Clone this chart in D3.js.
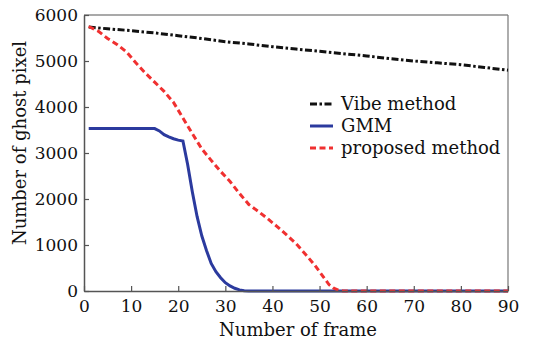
<!DOCTYPE html>
<html><head><meta charset="utf-8">
<script src="https://cdn.jsdelivr.net/npm/d3@7"></script>
<style>body{margin:0;background:#fff}svg{display:block}text{font-family:"DejaVu Serif",serif;fill:#111}</style>
</head><body><svg id="c" width="535" height="346"></svg>
<script>
const xTicks=[0,10,20,30,40,50,60,70,80,90];
const yTicks=[0,1000,2000,3000,4000,5000,6000];
const vibeFrames=[1,5,10,15,20,25,30,35,40,45,50,55,60,65,70,75,80,85,90];
const vibeValues=[5740,5700,5660,5610,5550,5490,5420,5370,5310,5260,5210,5160,5110,5050,5000,4960,4920,4860,4800];
const gmmFrames=[1,5,10,15,16,17,18,19,20,21,22,23,24,25,26,27,28,29,30,31,32,33,34,35,40,50,60,70,80,90];
const gmmValues=[3530,3530,3530,3530,3480,3400,3350,3310,3280,3260,2750,2150,1620,1200,880,600,420,290,180,110,60,25,5,0,0,0,0,0,0,0];
const propFrames=[1,3,5,7,9,11,13,15,17,19,21,23,25,27,29,31,33,35,37,39,41,43,45,47,49,51,52,53,54,55,60,70,80,90];
const propValues=[5750,5650,5490,5360,5200,4960,4740,4540,4340,4100,3760,3420,3090,2840,2600,2380,2120,1880,1730,1570,1400,1220,1030,800,560,280,140,60,20,0,0,0,0,0];
const seriesNames=["Vibe method","GMM","proposed method"];

const svg=d3.select("#c");
const x=d3.scaleLinear().domain([0,90]).range([84,508]);
const y=d3.scaleLinear().domain([0,6000]).range([291,15]);
const axisColor="#555";

svg.append("line").attr("x1",84).attr("x2",508).attr("y1",15).attr("y2",15).attr("stroke",axisColor).attr("stroke-width",1.2);
svg.append("line").attr("x1",508).attr("x2",508).attr("y1",15).attr("y2",291).attr("stroke","#777").attr("stroke-width",1.2);

const line=d3.line().x(d=>x(d[0])).y(d=>y(d[1]));
const styles=[
  {color:"#111",dash:"7,2.5,2.5,2.5",w:3},
  {color:"#2b3a9e",dash:null,w:3},
  {color:"#f03030",dash:"6,3.5",w:3}
];
const data=[
  d3.zip(vibeFrames,vibeValues),
  d3.zip(gmmFrames,gmmValues),
  d3.zip(propFrames,propValues)
];
data.forEach((d,i)=>{
  const p=svg.append("path").attr("d",line(d)).attr("fill","none")
    .attr("stroke",styles[i].color).attr("stroke-width",styles[i].w);
  if(styles[i].dash)p.attr("stroke-dasharray",styles[i].dash);
});

const xa=svg.append("g").attr("transform","translate(0,291)")
  .call(d3.axisBottom(x).tickValues(xTicks).tickFormat(d3.format("d")).tickSizeInner(-5).tickSizeOuter(0).tickPadding(7));
const ya=svg.append("g").attr("transform","translate(84,0)")
  .call(d3.axisLeft(y).tickValues(yTicks).tickFormat(d3.format("d")).tickSizeInner(-5).tickSizeOuter(0).tickPadding(6));
[xa,ya].forEach(g=>{
  g.select(".domain").attr("stroke",axisColor).attr("stroke-width",1.5);
  g.selectAll(".tick line").attr("stroke",axisColor).attr("stroke-width",1.2);
  g.selectAll("text").attr("font-size","17px").attr("font-family","DejaVu Serif").attr("fill","#111");
});
xa.selectAll("text").attr("dy","0.8em");

svg.append("text").attr("x",298).attr("y",336).attr("text-anchor","middle").attr("font-size","18px").text("Number of frame");
svg.append("text").attr("transform","translate(26,143) rotate(-90)").attr("text-anchor","middle").attr("font-size","18px").text("Number of ghost pixel");

const lg=svg.append("g");
const ly=[104,126,148];
seriesNames.forEach((n,i)=>{
  const l=lg.append("line").attr("x1",310).attr("x2",333).attr("y1",ly[i]).attr("y2",ly[i])
    .attr("stroke",styles[i].color).attr("stroke-width",3);
  if(styles[i].dash)l.attr("stroke-dasharray",styles[i].dash);
  lg.append("text").attr("x",341).attr("y",ly[i]).attr("dy","0.35em").attr("font-size","18px").text(n);
});
</script></body></html>
